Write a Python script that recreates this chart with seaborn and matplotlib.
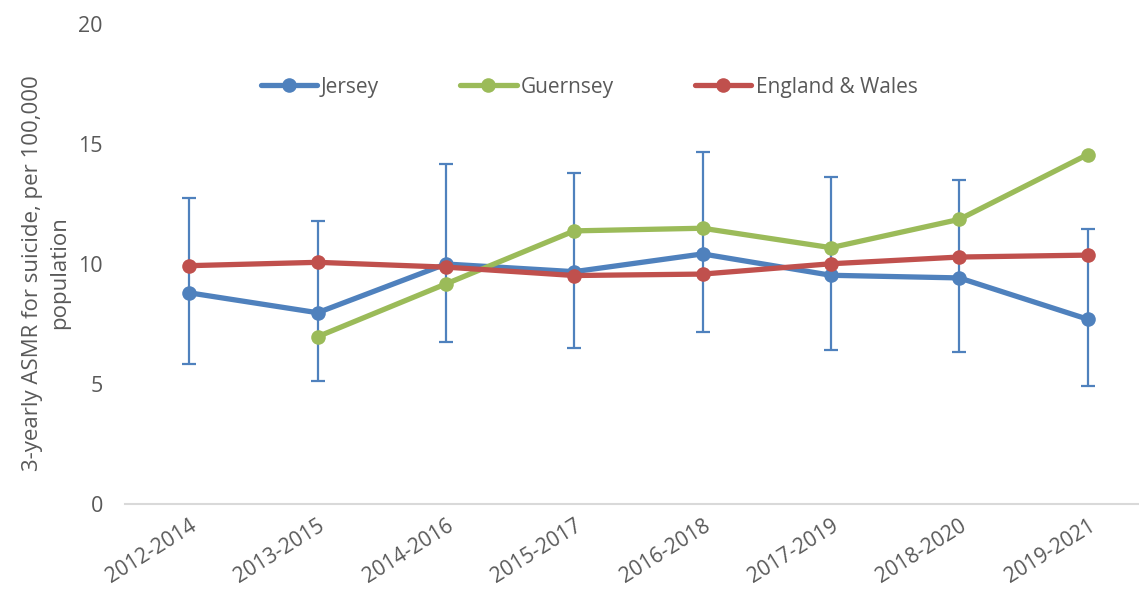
import numpy as np
import pandas as pd
import matplotlib
matplotlib.use("Agg")
import matplotlib.pyplot as plt
import seaborn as sns

periods = ["2012-2014", "2013-2015", "2014-2016", "2015-2017",
           "2016-2018", "2017-2019", "2018-2020", "2019-2021"]
jersey = [8.8, 7.97, 10.0, 9.68, 10.42, 9.53, 9.42, 7.7]
jersey_upper = [12.75, 11.78, 14.18, 13.8, 14.65, 13.64, 13.48, 11.46]
jersey_lower = [5.83, 5.14, 6.75, 6.5, 7.15, 6.42, 6.35, 4.92]
guernsey = [np.nan, 6.97, 9.17, 11.38, 11.49, 10.68, 11.86, 14.56]
england_wales = [9.93, 10.07, 9.87, 9.52, 9.58, 10.01, 10.29, 10.37]

series_names = ["Jersey", "Guernsey", "England & Wales"]
colors = ["#4F81BD", "#9BBB59", "#C0504D"]

sns.set_theme(style="white")
plt.rcParams["font.family"] = ["Open Sans", "DejaVu Sans"]
text_color = "#595959"

fig = plt.figure(figsize=(11.39, 5.91), dpi=100)
ax = fig.add_axes([125 / 1139, 1 - 504 / 591, (1139 - 125) / 1139, (504 - 24) / 591])

x_pos = np.arange(len(periods))
jersey_arr = np.array(jersey)
ax.errorbar(x_pos, jersey_arr,
            yerr=[jersey_arr - np.array(jersey_lower), np.array(jersey_upper) - jersey_arr],
            fmt="none", ecolor=colors[0], elinewidth=1.6, capsize=5, capthick=1.6, zorder=1)

df = pd.DataFrame({"x": x_pos, "Jersey": jersey, "Guernsey": guernsey,
                   "England & Wales": england_wales})
for name, col in zip(series_names, colors):
    sub = df[["x", name]].dropna()
    sns.lineplot(data=sub, x="x", y=name, ax=ax, color=col, linewidth=3.8,
                 marker="o", markersize=10.5, markeredgewidth=0, label=name,
                 sort=False, zorder=3)

ax.set_xlim(-0.5, 7.4)
ax.set_ylim(0, 20)
ax.set_yticks([0, 5, 10, 15, 20])
ax.set_xticks(x_pos)
ax.set_xticklabels(periods, rotation=32, ha="right", rotation_mode="anchor")
ax.tick_params(axis="both", colors=text_color, length=0)
ax.tick_params(axis="y", pad=16, labelsize=15.5)
ax.tick_params(axis="x", pad=8, labelsize=15)
for lbl in ax.get_xticklabels() + ax.get_yticklabels():
    lbl.set_color(text_color)

for s in ["top", "right", "left"]:
    ax.spines[s].set_visible(False)
ax.spines["bottom"].set_color("#D9D9D9")
ax.spines["bottom"].set_linewidth(1.5)
ax.grid(False)

ax.set_xlabel("")
ax.set_ylabel("")
fig.text(46 / 1139, 1 - 273 / 591, "3-yearly ASMR for suicide, per 100,000\npopulation",
         rotation=90, ha="center", va="center", multialignment="center",
         fontsize=16, color=text_color, linespacing=1.35)

leg = ax.legend(loc="center", bbox_to_anchor=(589 / 1139, 1 - 87 / 591),
                bbox_transform=fig.transFigure, ncol=3, frameon=False,
                fontsize=15, handlelength=2.7, handletextpad=0.2,
                columnspacing=3.9)
for t in leg.get_texts():
    t.set_color(text_color)

fig.savefig("out.png", dpi=100)
